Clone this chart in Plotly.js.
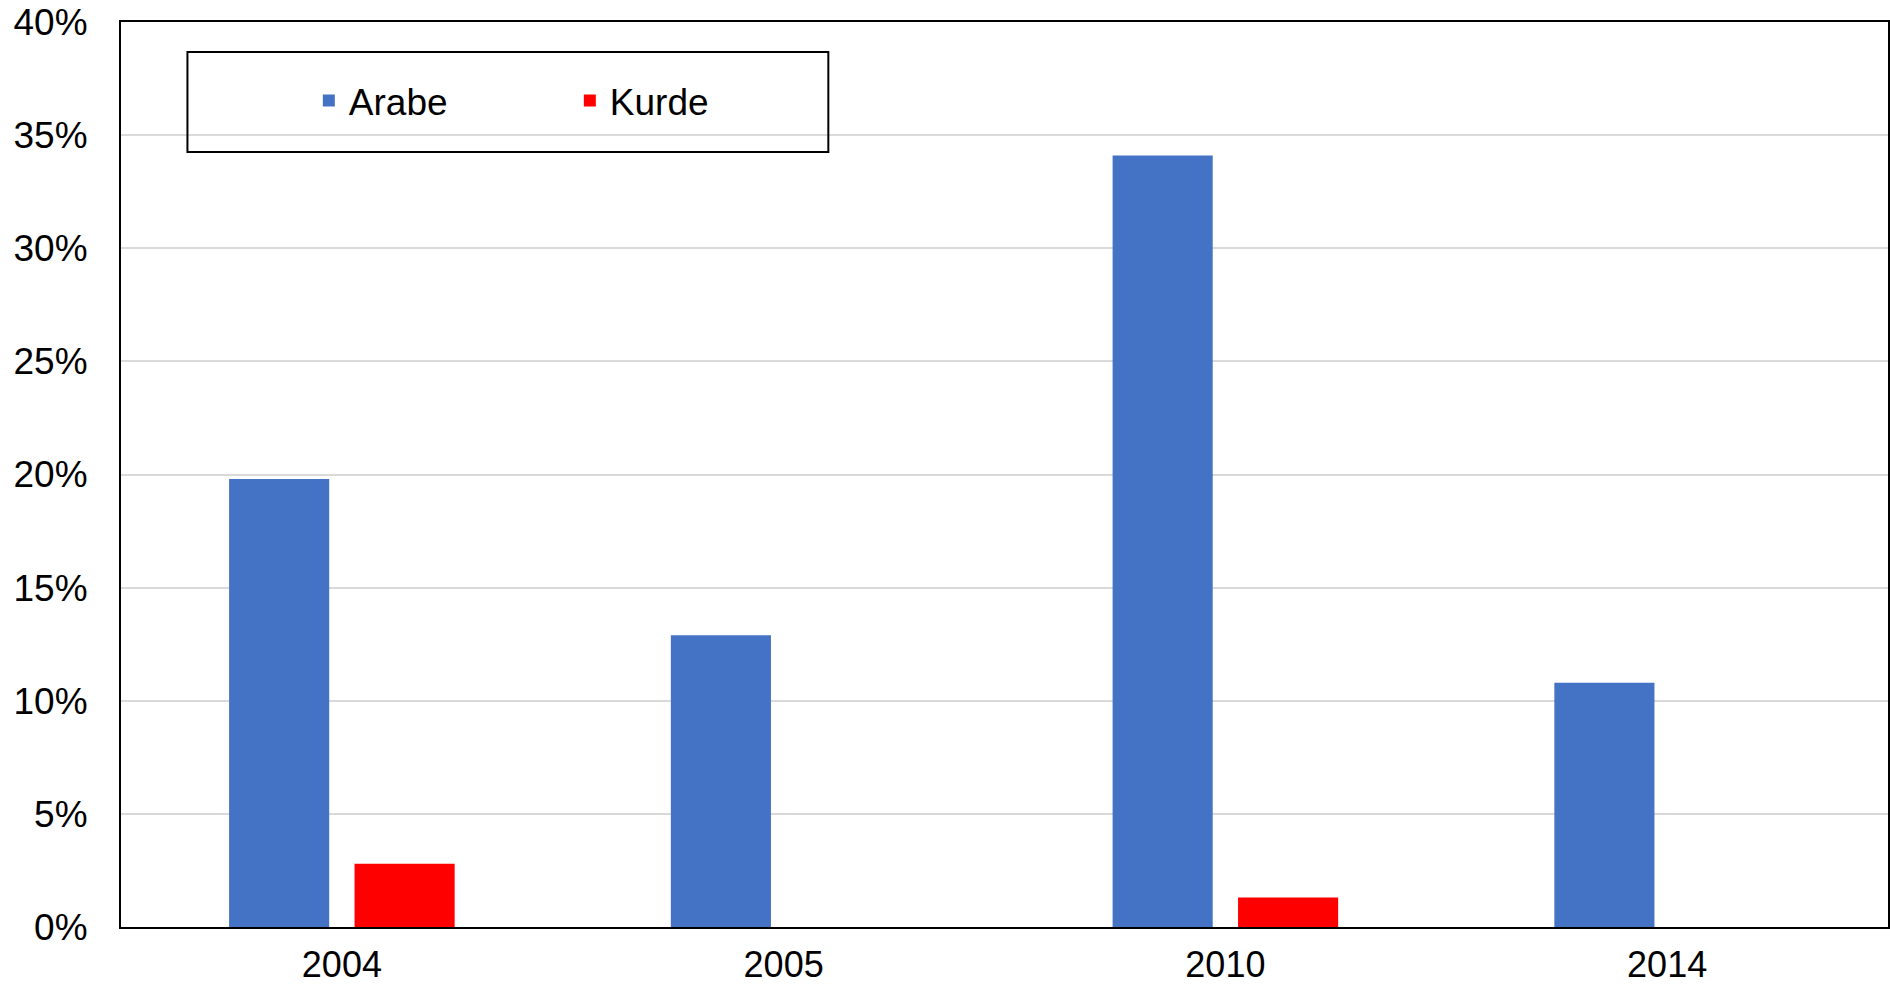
<!DOCTYPE html>
<html>
<head>
<meta charset="utf-8">
<script src="https://cdn.plot.ly/plotly-3.0.1.min.js"></script>
<style>html,body{margin:0;padding:0;background:#fff;}#chart{width:1890px;height:988px;}</style>
</head>
<body>
<div id="chart"></div>
<script>
const categories = ['2004', '2005', '2010', '2014'];
const arabe = [19.8, 12.9, 34.1, 10.8];
const kurde = [2.8, 0, 1.3, 0];
const seriesNames = ['Arabe', 'Kurde'];
const yTicks = [0, 5, 10, 15, 20, 25, 30, 35, 40];

const font = {family: '"Liberation Sans", Arial, sans-serif', size: 37, color: '#000'};
const xFont = {family: '"Liberation Sans", Arial, sans-serif', size: 36, color: '#000'};

const data = [
  {type: 'bar', name: seriesNames[0], x: categories, y: arabe, marker: {color: '#4472C4'}, hoverinfo: 'x+y'},
  {type: 'bar', name: seriesNames[1], x: categories, y: kurde, marker: {color: '#FF0000'}, hoverinfo: 'x+y'}
];

const layout = {
  width: 1890, height: 988,
  margin: {l: 121, r: 2, t: 22, b: 61},
  paper_bgcolor: '#fff', plot_bgcolor: '#fff',
  font: font,
  barmode: 'group', bargap: 0.432, bargroupgap: 0.202,
  xaxis: {
    type: 'category', showline: true, mirror: true, linecolor: '#000', linewidth: 2,
    showgrid: false, ticks: '', ticklabelstandoff: 5, tickfont: xFont
  },
  yaxis: {
    range: [0, 40], tickvals: yTicks, ticktext: yTicks.map(v => v + '%'),
    showline: true, mirror: true, linecolor: '#000', linewidth: 2,
    showgrid: true, gridcolor: '#d9d9d9', gridwidth: 2, zeroline: false,
    ticks: '', ticklabelstandoff: 24, tickfont: font
  },
  showlegend: true,
  legend: {
    orientation: 'h', x: 0.1063, xanchor: 'left', y: 0.9127, yanchor: 'middle',
    bgcolor: 'rgba(0,0,0,0)', borderwidth: 0, font: font,
    entrywidth: 216, entrywidthmode: 'pixels', traceorder: 'normal'
  },
  shapes: [{
    type: 'rect', xref: 'paper', yref: 'paper',
    x0: 0.0376, x1: 0.4003, y0: 0.8564, y1: 0.9669,
    line: {color: '#000', width: 2}, fillcolor: 'rgba(0,0,0,0)', layer: 'above'
  }]
};

Plotly.newPlot('chart', data, layout, {displayModeBar: false, staticPlot: true});
</script>
</body>
</html>
